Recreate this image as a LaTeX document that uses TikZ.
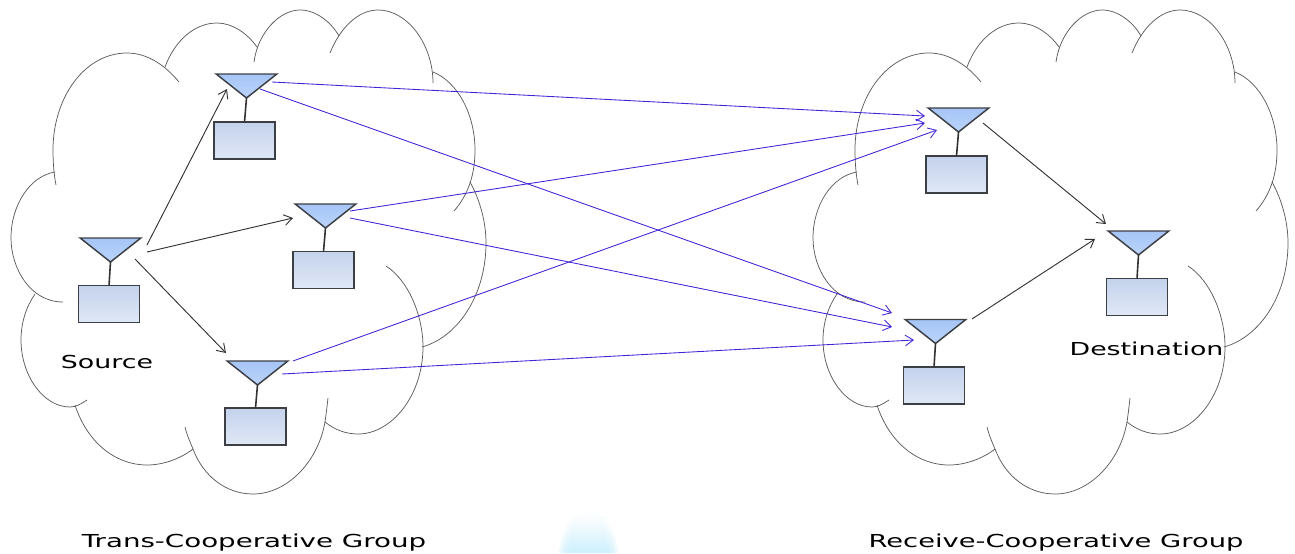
\documentclass[tikz,border=0pt]{standalone}
\usepackage{fontspec}
\setmainfont{DejaVu Sans}
\usetikzlibrary{arrows.meta,shapes.geometric}
\definecolor{cloudgray}{HTML}{5A5A5A}
\definecolor{blueline}{HTML}{3F25D8}
\definecolor{darkline}{HTML}{333333}
\definecolor{edgegray}{HTML}{3C3F44}
\definecolor{antTop}{HTML}{A6C5F6}
\definecolor{antBot}{HTML}{BAD4FB}
\definecolor{boxTop}{HTML}{C4D2EC}
\definecolor{boxBot}{HTML}{E0E8F6}
\definecolor{blobCol}{HTML}{BDEBFB}
\tikzset{
  x=0.75pt,y=-0.75pt,
  lobe/.style={draw=cloudgray,line width=0.55pt},
  antenna/.style={isosceles triangle,isosceles triangle apex angle=90,isosceles triangle stretches,
    shape border rotate=-90,minimum width=45.5pt,minimum height=18pt,inner sep=0pt,outer sep=0pt,
    draw=edgegray,line width=1.1pt,line join=miter,top color=antTop,bottom color=antBot},
  radiobox/.style={rectangle,minimum width=45.5pt,minimum height=27.5pt,inner sep=0pt,outer sep=0pt,
    draw=edgegray,line width=1.1pt,top color=boxTop,bottom color=boxBot},
  stem/.style={draw=darkline,line width=1.2pt},
  blacklink/.style={draw=darkline,line width=0.7pt,-{Straight Barb[length=6pt,width=8pt,line width=0.7pt]}},
  bluelink/.style={draw=blueline,line width=0.65pt,-{Straight Barb[length=6pt,width=8pt,line width=0.65pt]}},
  caption/.style={inner sep=0pt,text=black,font=\fontsize{13.4pt}{16pt}\selectfont},
  cloudpic/.pic={
    \draw[lobe] (55,172) .. controls (30,176) and (11,205) .. (11,238) .. controls (11,268) and (30,302) .. (63,302);
    \draw[lobe] (56,185) .. controls (54,175) and (53,163) .. (53,150) .. controls (53,97) and (85,53) .. (127,53) .. controls (147,53) and (165,65) .. (179,82);
    \draw[lobe] (165,67) .. controls (175,40) and (195,23) .. (217,23) .. controls (232,23) and (247,33) .. (257,47);
    \draw[lobe] (254,62) .. controls (258,32) and (280,10) .. (300,10) .. controls (316,10) and (331,22) .. (339,36);
    \draw[lobe] (330,53) .. controls (340,28) and (358,10) .. (378,10) .. controls (408,10) and (433,45) .. (433,83);
    \draw[lobe] (433,72) .. controls (458,82) and (475,115) .. (475,150) .. controls (475,175) and (468,195) .. (454,211);
    \draw[lobe] (470,182) .. controls (480,200) and (486,222) .. (486,243) .. controls (486,295) and (458,337) .. (422,347);
    \draw[lobe] (386,266) .. controls (408,280) and (423,315) .. (423,347) .. controls (423,395) and (392,434) .. (358,434) .. controls (346,434) and (335,430) .. (325,422);
    \draw[lobe] (328,398) .. controls (327,407) and (326,415) .. (325,422) .. controls (318,462) and (287,494) .. (253,494) .. controls (226,494) and (203,476) .. (193,449) .. controls (190,442) and (187,435) .. (185,427);
    \draw[lobe] (193,449) .. controls (180,459) and (163,465) .. (147,465) .. controls (115,465) and (87,442) .. (75,405);
    \draw[lobe] (87,400) .. controls (81,404) and (76,407) .. (70,407) .. controls (43,407) and (21,375) .. (21,340) .. controls (21,323) and (26,307) .. (35,294);
  }
}
\begin{document}
\begin{tikzpicture}
\useasboundingbox (0,0) rectangle (1295,553);
% faint mark at the lower edge
\foreach \g in {0,3,6,9}{
  \shade[top color=white,bottom color=blobCol,draw=none,opacity=0.3]
    (559+\g,553) .. controls (562+\g,525+\g) and (575,509+\g) .. (588,509+\g) .. controls (601,509+\g) and (615-\g,525+\g) .. (618-\g,553) -- cycle;
}
% clouds
\pic at (0,0) {cloudpic};
\pic at (802,0) {cloudpic};
% antennas and boxes
\node[antenna,anchor=apex] (srcA) at (110.5,262) {};
\node[radiobox] (srcB) at (109,304) {};
\node[antenna,anchor=apex] (taA) at (246.5,98) {};
\node[radiobox] (taB) at (244.5,140.5) {};
\node[antenna,anchor=apex] (tbA) at (325.5,228) {};
\node[radiobox] (tbB) at (323.5,270) {};
\node[antenna,anchor=apex] (tcA) at (257.5,385) {};
\node[radiobox] (tcB) at (255.5,426.5) {};
\node[antenna,anchor=apex] (raA) at (958.5,132) {};
\node[radiobox] (raB) at (956.5,174.5) {};
\node[antenna,anchor=apex] (rbA) at (935.5,343.5) {};
\node[radiobox] (rbB) at (934,385.5) {};
\node[antenna,anchor=apex] (dstA) at (1138.5,255) {};
\node[radiobox] (dstB) at (1137,297) {};
\foreach \n in {src,ta,tb,tc,ra,rb,dst}{\draw[stem] (\n A.apex) -- (\n B.north);}
% black links (offsets from the antenna apex)
\draw[blacklink] ([shift={(36.5,-17)}]srcA.apex) -- ([shift={(-19.5,-9)}]taA.apex);
\draw[blacklink] ([shift={(36.5,-10)}]srcA.apex) -- ([shift={(-32.5,-10)}]tbA.apex);
\draw[blacklink] ([shift={(24.5,-3)}]srcA.apex) -- ([shift={(-31.5,-32)}]tcA.apex);
\draw[blacklink] ([shift={(24.5,-9)}]raA.apex) -- ([shift={(-32.5,-31)}]dstA.apex);
\draw[blacklink] ([shift={(36.5,-24.5)}]rbA.apex) -- ([shift={(-43.5,-16)}]dstA.apex);
% blue links
\draw[bluelink] ([shift={(25.5,-16)}]taA.apex) -- ([shift={(-33.5,-16)}]raA.apex);
\draw[bluelink] ([shift={(13.5,-9)}]taA.apex) -- ([shift={(-43.5,-30.5)}]rbA.apex);
\draw[bluelink] ([shift={(24.5,-17)}]tbA.apex) -- ([shift={(-33.5,-9)}]raA.apex);
\draw[bluelink] ([shift={(24.5,-10)}]tbA.apex) -- ([shift={(-43.5,-16.5)}]rbA.apex);
\draw[bluelink] ([shift={(35.5,-24)}]tcA.apex) -- ([shift={(-21.5,-2)}]raA.apex);
\draw[bluelink] ([shift={(24.5,-11)}]tcA.apex) -- ([shift={(-21.5,-3.5)}]rbA.apex);
% labels
\node[caption] (lsrc) at (107,361.5) {\scalebox{1.5}[1]{Source}};
\node[caption] (ldst) at (1146.5,348.5) {\scalebox{1.5}[1]{Destination}};
\node[caption] (ltrans) at (254,543) {\scalebox{1.55}[1]{Trans-Cooperative Group}};
\node[caption] (lrecv) at (1056,543) {\scalebox{1.53}[1]{Receive-Cooperative Group}};
\end{tikzpicture}
\end{document}
